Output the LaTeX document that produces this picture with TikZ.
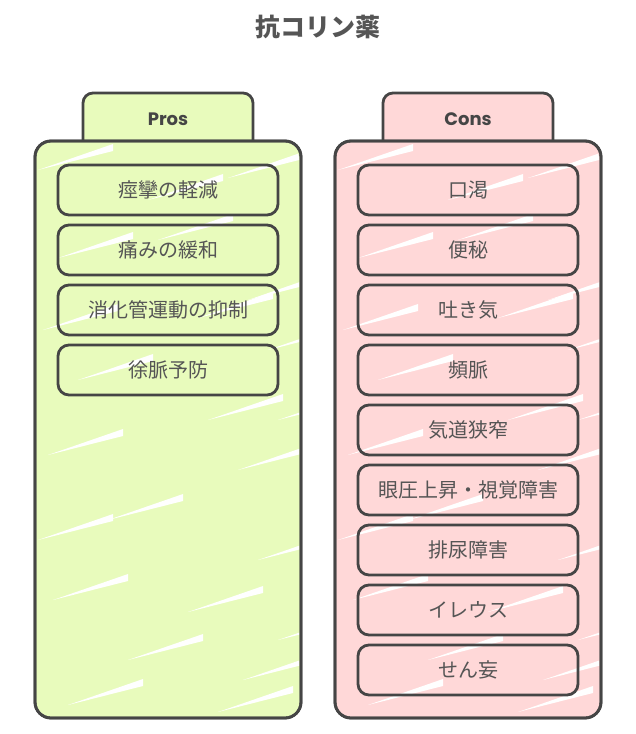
\documentclass[tikz,border=0pt]{standalone}
\usepackage{fontspec}
\setmainfont{Noto Sans CJK JP}
\newfontfamily\handfont{Poppins}
\definecolor{strk}{HTML}{454545}
\definecolor{txt}{HTML}{555555}
\definecolor{grn}{HTML}{E8FBBC}
\definecolor{pnk}{HTML}{FFD8D8}
\tikzset{
  bigbox/.style={draw=strk, line width=2.8pt, rounded corners=16pt, minimum width=266pt, minimum height=577pt, inner sep=0pt},
  itembox/.style={draw=strk, line width=2.8pt, rounded corners=11pt, minimum width=220pt, minimum height=50pt, inner sep=0pt, text=txt, font=\fontsize{20}{23}\selectfont},
  tabbox/.style={draw=strk, line width=2.8pt},
  tablabel/.style={text=strk, font=\handfont\bfseries\fontsize{18}{21}\selectfont},
  streak/.style={fill=white}
}
\begin{document}
\begin{tikzpicture}[x=1pt,y=-1pt]
\useasboundingbox (0,0) rectangle (636,734);
\node[text=txt, font=\bfseries\fontsize{25}{29}\selectfont] (title) at (318,27) {抗コリン薬};
% tabs
\path[tabbox, fill=grn] (83,141) [rounded corners=10pt] -- (83,93) -- (253,93) -- (253,141);
\path[tabbox, fill=pnk] (383,141) [rounded corners=10pt] -- (383,93) -- (553,93) -- (553,141);
\node[tablabel] (prostab) at (168,119) {Pros};
\node[tablabel] (constab) at (468,119) {Cons};
% main boxes
\node[bigbox, fill=grn] (pros) at (168,429.5) {};
\node[bigbox, fill=pnk] (cons) at (468,429.5) {};
% streaks
\foreach \cx in {168,468}{
\begin{scope}
\clip[rounded corners=16pt] (\cx-131,143) rectangle (\cx+131,716);
\foreach \dx/\y in {-20/200,60/178,-110/258,30/318,80/300,-90/380,40/420,-120/455,70/470,-60/520,90/560,-115/600,20/612,-40/660,75/680,-100/705,50/712,-10/240,100/350,-130/170,-125/330,110/420,-130/540,110/640}{
  \fill[streak] (\cx+\dx,\y) -- ++(75,-26) -- ++(0,7) -- cycle;
}
\end{scope}
\node[bigbox] at (\cx,429.5) {};
}
% pros items
\node[itembox] (p1) at (168,190) {痙攣の軽減};
\node[itembox] (p2) at (168,250) {痛みの緩和};
\node[itembox] (p3) at (168,310) {消化管運動の抑制};
\node[itembox] (p4) at (168,370) {徐脈予防};
% cons items
\node[itembox] (c1) at (468,190) {口渇};
\node[itembox] (c2) at (468,250) {便秘};
\node[itembox] (c3) at (468,310) {吐き気};
\node[itembox] (c4) at (468,370) {頻脈};
\node[itembox] (c5) at (468,430) {気道狭窄};
\node[itembox] (c6) at (468,490) {眼圧上昇・視覚障害};
\node[itembox] (c7) at (468,550) {排尿障害};
\node[itembox] (c8) at (468,610) {イレウス};
\node[itembox] (c9) at (468,670) {せん妄};
\end{tikzpicture}
\end{document}
